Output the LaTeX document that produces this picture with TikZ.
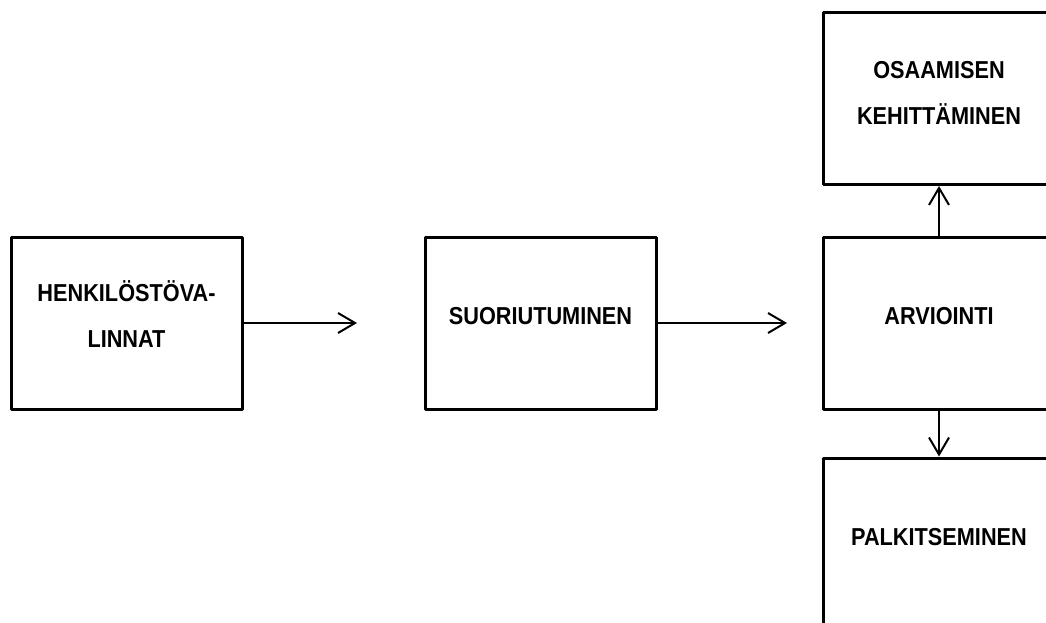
\documentclass[tikz,border=0pt]{standalone}
\usepackage{fontspec}
\setmainfont{Liberation Sans}
\newfontfamily\labelfont[FakeStretch=0.886]{Liberation Sans}
\usetikzlibrary{arrows.meta}
\begin{document}
\begin{tikzpicture}[x=1pt,y=-1pt,
  box/.style={draw,line width=3pt,minimum width=231pt,minimum height=172pt,inner sep=0pt,line join=round},
  lbl/.style={font=\labelfont\fontsize{24.5}{46}\selectfont\bfseries,align=center,inner sep=0pt},
  arr/.style={line width=2pt,-{Straight Barb[length=17pt,width=20pt,line width=2pt]}}]
\useasboundingbox (0,0) rectangle (1046,623);
\clip (0,0) rectangle (1046,623);
\node[box] (h) at (126.5,323) {};
\node[box] (s) at (540.5,323) {};
\node[box] (a) at (939,323) {};
\node[box] (o) at (939,98.5) {};
\node[box] (p) at (939,544) {};
\node[lbl] (th) at (126.5,314.5) {HENKILÖSTÖVA-\\LINNAT};
\node[lbl] (ts) at (540.5,316) {SUORIUTUMINEN};
\node[lbl] (ta) at (939,316) {ARVIOINTI};
\node[lbl] (to) at (939,93) {OSAAMISEN\\KEHITTÄMINEN};
\node[lbl] (tp) at (939,537) {PALKITSEMINEN};
\coordinate (e1) at (357,323);
\coordinate (e2) at (787,323);
\draw[arr] (h.east) -- (e1);
\draw[arr] (s.east) -- (e2);
\draw[arr] (a.north) -- (o.south);
\draw[arr] (a.south) -- (p.north);
\end{tikzpicture}
\end{document}
